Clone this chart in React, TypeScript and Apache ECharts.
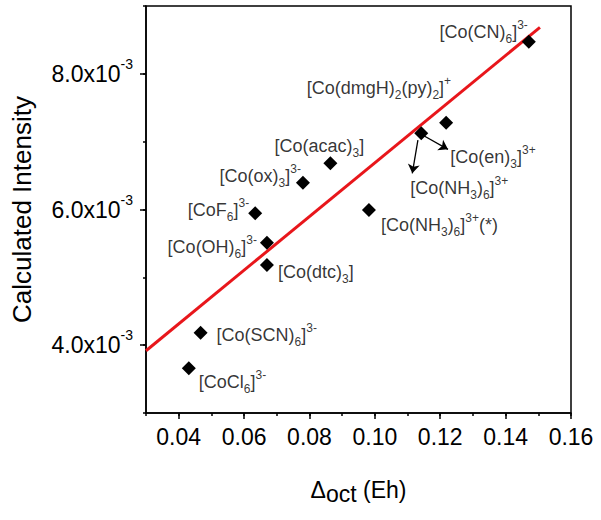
import React, { useEffect, useRef } from "react";
import * as echarts from "echarts";

// ---- data ----
const deltaOct = [0.0431, 0.0467, 0.067, 0.067, 0.0634, 0.078, 0.0864, 0.0982, 0.1142, 0.1218, 0.1471];
const intensity = [0.003659, 0.004184, 0.005182, 0.005511, 0.005944, 0.006395, 0.006681, 0.005992, 0.007123, 0.00728, 0.008474];

// linear fit line end points
const fitX = [0.03, 0.1505];
const fitY = [0.003918, 0.008686];

// tick values
const xMajorTicks = [0.04, 0.06, 0.08, 0.1, 0.12, 0.14, 0.16];
const yMajorTicks = [0.004, 0.006, 0.008];

// annotation texts (markup: _{sub} ^{sup}) and the point each belongs to
const labelTexts = [
  "[CoCl_{6}]^{3-}",
  "[Co(SCN)_{6}]^{3-}",
  "[Co(dtc)_{3}]",
  "[Co(OH)_{6}]^{3-}",
  "[CoF_{6}]^{3-}",
  "[Co(ox)_{3}]^{3-}",
  "[Co(acac)_{3}]",
  "[Co(NH_{3})_{6}]^{3+}(*)",
  "[Co(en)_{3}]^{3+}",
  "[Co(NH_{3})_{6}]^{3+}",
  "[Co(dmgH)_{2}(py)_{2}]^{+}",
  "[Co(CN)_{6}]^{3-}",
];
const labelOf = [0, 1, 2, 3, 4, 5, 6, 7, 8, 8, 9, 10];

// label placement (pixel offsets from the point)
const labelPlacement: { align: string; dx: number; dy: number }[] = [
  { align: "left", dx: 10, dy: 14 },
  { align: "left", dx: 16, dy: 2 },
  { align: "left", dx: 11, dy: 7 },
  { align: "right", dx: -10, dy: 4 },
  { align: "right", dx: -6, dy: -3 },
  { align: "right", dx: -2, dy: -7 },
  { align: "center", dx: -11, dy: -17 },
  { align: "left", dx: 12, dy: 15 },
  { align: "left", dx: 29, dy: 24 },
  { align: "left", dx: -11, dy: 55 },
  { align: "right", dx: 5, dy: -35 },
  { align: "right", dx: -1, dy: -10 },
];

// arrows (data coordinates: from -> to)
const arrows = [
  [[0.11317, 0.007024], [0.11145, 0.006533]],
  [[0.11458, 0.007098], [0.12237, 0.006887]],
];

const FONT = "'Liberation Sans', Arial, Helvetica, sans-serif";
const INK = "#000";

function toRich(s: string): string {
  let out = "";
  let buf = "";
  let i = 0;
  const flush = () => {
    if (buf) {
      out += `{m|${buf}}`;
      buf = "";
    }
  };
  while (i < s.length) {
    const c = s[i];
    if ((c === "_" || c === "^") && s[i + 1] === "{") {
      const end = s.indexOf("}", i);
      flush();
      out += `{${c === "_" ? "b" : "p"}|${s.slice(i + 2, end)}}`;
      i = end + 1;
    } else {
      buf += c;
      i++;
    }
  }
  flush();
  return out;
}

export default function App() {
  const ref = useRef<HTMLDivElement>(null);

  useEffect(() => {
    if (!ref.current) return;
    const chart = echarts.init(ref.current, undefined, { renderer: "svg" });

    const points = deltaOct.map((x, i) => [x, intensity[i]]);

    const annData = labelTexts.map((t, k) => {
      const p = labelPlacement[k];
      return {
        value: points[labelOf[k]],
        label: {
          show: true,
          position: "inside",
          align: p.align,
          verticalAlign: "middle",
          offset: [p.dx, p.dy],
          formatter: toRich(t),
        },
      };
    });

    const labelRich = {
      m: { fontSize: 18, lineHeight: 26, fontFamily: FONT, color: INK },
      b: { fontSize: 12, lineHeight: 12, verticalAlign: "bottom", fontFamily: FONT, color: INK },
      p: { fontSize: 12, lineHeight: 12, verticalAlign: "top", fontFamily: FONT, color: INK },
    };

    chart.setOption({
      animation: false,
      backgroundColor: "#fff",
      grid: {
        left: 146,
        right: 30,
        top: 6,
        bottom: 107,
        show: true,
        borderColor: "#000",
        borderWidth: 1.5,
        backgroundColor: "transparent",
      },
      xAxis: [
        {
          type: "value",
          min: 0.03,
          max: 0.16,
          position: "bottom",
          axisLine: { show: true, lineStyle: { color: "#000", width: 1.5 } },
          axisTick: { show: true, customValues: xMajorTicks, length: 6, lineStyle: { color: "#000", width: 1.5 } },
          axisLabel: {
            customValues: xMajorTicks,
            formatter: (v: number) => v.toFixed(2),
            fontSize: 23,
            margin: 12,
            color: INK,
            fontFamily: FONT,
          },
          splitLine: { show: false },
          name: "{d|Δ}{o|oct}{t| (Eh)}",
          nameLocation: "middle",
          nameGap: 62,
          nameTextStyle: {
            rich: {
              d: { fontSize: 23, lineHeight: 30, fontFamily: FONT, color: INK },
              o: { fontSize: 23, lineHeight: 14, verticalAlign: "bottom", fontFamily: FONT, color: INK },
              t: { fontSize: 23, lineHeight: 30, fontFamily: FONT, color: INK },
            },
          },
        },
        {
          type: "value",
          min: 0.03,
          max: 0.16,
          interval: 0.01,
          position: "bottom",
          axisLine: { show: false },
          axisTick: { show: true, length: 3, lineStyle: { color: "#000", width: 1.5 } },
          axisLabel: { show: false },
          splitLine: { show: false },
        },
      ],
      yAxis: [
        {
          type: "value",
          min: 0.003,
          max: 0.009,
          position: "left",
          axisLine: { show: true, lineStyle: { color: "#000", width: 1.5 } },
          axisTick: { show: true, customValues: yMajorTicks, length: 6, lineStyle: { color: "#000", width: 1.5 } },
          axisLabel: {
            customValues: yMajorTicks,
            formatter: (v: number) => `{m|${(v * 1000).toFixed(1)}x10}{s|-3}`,
            margin: 13,
            rich: {
              m: { fontSize: 23, lineHeight: 34, fontFamily: FONT, color: INK },
              s: { fontSize: 14, lineHeight: 14, verticalAlign: "top", fontFamily: FONT, color: INK },
            },
          },
          splitLine: { show: false },
          name: "Calculated Intensity",
          nameLocation: "middle",
          nameGap: 111,
          nameTextStyle: { fontSize: 26, fontFamily: FONT, color: INK },
        },
        {
          type: "value",
          min: 0.003,
          max: 0.009,
          interval: 0.001,
          position: "left",
          axisLine: { show: false },
          axisTick: { show: true, length: 3, lineStyle: { color: "#000", width: 1.5 } },
          axisLabel: { show: false },
          splitLine: { show: false },
        },
      ],
      series: [
        {
          type: "line",
          data: fitX.map((x, i) => [x, fitY[i]]),
          symbol: "none",
          lineStyle: { color: "#e8161b", width: 3 },
          silent: true,
          z: 2,
        },
        {
          type: "scatter",
          data: points,
          symbol: "diamond",
          symbolSize: 14,
          itemStyle: { color: "#000", opacity: 1 },
          silent: true,
          z: 3,
        },
        {
          type: "scatter",
          data: annData,
          symbolSize: 1,
          itemStyle: { color: "rgba(0,0,0,0)" },
          label: { show: true, rich: labelRich },
          silent: true,
          z: 4,
          markLine: {
            silent: true,
            symbol: ["none", "arrow"],
            symbolSize: 9,
            label: { show: false },
            lineStyle: { color: "#000", width: 1.3, type: "solid" },
            data: arrows.map((a) => [{ coord: a[0] }, { coord: a[1] }]),
          },
        },
      ],
    });

    return () => chart.dispose();
  }, []);

  return (
    <div
      ref={ref}
      style={{ position: "absolute", left: 0, top: 0, width: 601, height: 520 }}
    />
  );
}
